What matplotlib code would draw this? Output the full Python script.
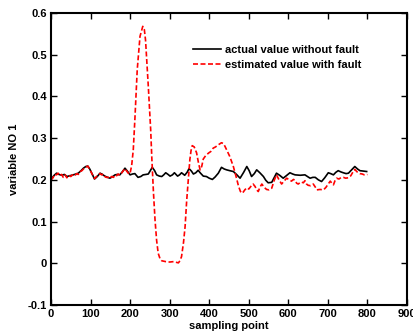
import numpy as np
import matplotlib
matplotlib.use('Agg')
import matplotlib.pyplot as plt

# curva real (sin falla)
x_act = [0, 7, 14, 20, 27, 34, 40, 48, 56, 63, 69, 76, 82, 88, 93, 98, 103, 110, 117, 124,
         130, 136, 143, 149, 156, 162, 168, 174, 181, 187, 193, 200, 206, 212, 220, 227, 233,
         240, 246, 251, 256, 262, 267, 274, 280, 285, 290, 296, 301, 307, 312, 316, 320, 325,
         330, 334, 338, 344, 349, 355, 360, 366, 372, 378, 385, 393, 400, 408, 415, 423, 431,
         438, 444, 452, 461, 470, 478, 487, 495, 501, 507, 514, 520, 528, 537, 543, 549, 558,
         564, 570, 578, 587, 595, 604, 611, 617, 630, 642, 650, 655, 662, 668, 676, 684, 692,
         701, 707, 714, 720, 726, 733, 739, 746, 752, 760, 768, 775, 781, 790, 798]
y_act = [0.200, 0.210, 0.216, 0.213, 0.211, 0.213, 0.208, 0.210, 0.212, 0.214, 0.216, 0.222,
         0.228, 0.232, 0.233, 0.226, 0.216, 0.202, 0.208, 0.216, 0.213, 0.209, 0.206, 0.204,
         0.208, 0.212, 0.213, 0.212, 0.220, 0.228, 0.221, 0.212, 0.214, 0.215, 0.206, 0.208,
         0.212, 0.213, 0.214, 0.222, 0.230, 0.222, 0.212, 0.209, 0.208, 0.212, 0.217, 0.213,
         0.209, 0.212, 0.217, 0.213, 0.209, 0.212, 0.217, 0.214, 0.211, 0.218, 0.227, 0.221,
         0.214, 0.217, 0.223, 0.216, 0.209, 0.208, 0.204, 0.201, 0.207, 0.216, 0.230, 0.226,
         0.224, 0.222, 0.220, 0.212, 0.204, 0.218, 0.232, 0.222, 0.208, 0.215, 0.224, 0.217,
         0.208, 0.199, 0.193, 0.194, 0.205, 0.216, 0.211, 0.204, 0.210, 0.217, 0.214, 0.212,
         0.211, 0.212, 0.207, 0.204, 0.206, 0.206, 0.200, 0.196, 0.205, 0.217, 0.215, 0.212,
         0.218, 0.222, 0.219, 0.217, 0.215, 0.216, 0.224, 0.232, 0.226, 0.222, 0.221, 0.220]

# curva estimada (con falla)
x_est = [0, 5, 10, 14, 18, 22, 27, 31, 36, 40, 45, 50, 56, 60, 65, 69, 74, 78, 82, 88, 93,
         98, 103, 110, 117, 124, 128, 132, 136, 140, 145, 149, 153, 158, 162, 166, 170, 174,
         178, 183, 187, 192, 197, 200, 204, 208, 212, 218, 225, 232, 236, 239, 246, 252, 255,
         259, 263, 267, 271, 276, 280, 290, 300, 310, 318, 322, 326, 330, 335, 339, 343, 347,
         351, 354, 357, 362, 368, 373, 377, 381, 385, 391, 398, 404, 410, 416, 423, 431, 436,
         440, 446, 452, 456, 461, 465, 469, 474, 479, 484, 490, 495, 500, 505, 511, 516, 520,
         524, 528, 533, 539, 545, 551, 558, 564, 570, 576, 583, 590, 596, 602, 608, 613, 617,
         621, 625, 632, 638, 642, 646, 650, 656, 663, 668, 672, 680, 689, 695, 701, 706, 710,
         714, 718, 722, 728, 734, 739, 745, 752, 758, 764, 768, 774, 781, 787, 792, 798, 800]
y_est = [0.200, 0.205, 0.214, 0.212, 0.216, 0.210, 0.213, 0.206, 0.212, 0.205, 0.211, 0.208,
         0.213, 0.210, 0.215, 0.213, 0.220, 0.222, 0.226, 0.230, 0.233, 0.225, 0.216, 0.203,
         0.210, 0.215, 0.212, 0.214, 0.208, 0.206, 0.206, 0.203, 0.208, 0.206, 0.212, 0.210,
         0.214, 0.211, 0.216, 0.222, 0.227, 0.220, 0.214, 0.216, 0.235, 0.272, 0.344, 0.464,
         0.544, 0.568, 0.560, 0.535, 0.424, 0.320, 0.250, 0.170, 0.104, 0.055, 0.024, 0.010,
         0.006, 0.004, 0.003, 0.004, 0.002, 0.001, 0.006, 0.016, 0.050, 0.088, 0.150, 0.200,
         0.248, 0.270, 0.282, 0.279, 0.265, 0.240, 0.224, 0.232, 0.250, 0.258, 0.264, 0.268,
         0.276, 0.279, 0.284, 0.289, 0.287, 0.280, 0.268, 0.256, 0.245, 0.232, 0.218, 0.204,
         0.185, 0.172, 0.168, 0.176, 0.181, 0.178, 0.184, 0.190, 0.184, 0.176, 0.172, 0.182,
         0.190, 0.182, 0.177, 0.176, 0.180, 0.198, 0.212, 0.201, 0.190, 0.198, 0.204, 0.200,
         0.197, 0.201, 0.199, 0.192, 0.190, 0.195, 0.193, 0.198, 0.190, 0.187, 0.186, 0.190,
         0.183, 0.176, 0.177, 0.176, 0.182, 0.190, 0.197, 0.192, 0.188, 0.198, 0.204, 0.202,
         0.206, 0.206, 0.204, 0.205, 0.210, 0.220, 0.225, 0.219, 0.215, 0.214, 0.212, 0.212,
         0.213]

plt.rcParams['font.family'] = ['Liberation Sans', 'DejaVu Sans']
plt.rcParams['font.weight'] = 'bold'
plt.rcParams['font.size'] = 8

fig = plt.figure(figsize=(4.14, 3.35), dpi=100)
ax = fig.add_axes([51/414, 1-305/335, 356/414, 292/335])

ax.plot(x_act, y_act, 'k-', lw=1.2, label='actual value without fault')
ax.plot(x_est, y_est, 'r--', lw=1.2, dashes=(3, 1.5), label='estimated value with fault')

ax.set_xlim(0, 900)
ax.set_ylim(-0.1, 0.6)
ax.set_xticks(np.arange(0, 901, 100))
ax.set_yticks(np.arange(-0.1, 0.61, 0.1))
ax.set_yticklabels(['-0.1', '0', '0.1', '0.2', '0.3', '0.4', '0.5', '0.6'])
ax.tick_params(direction='in', top=True, right=True, length=4, width=1, labelsize=8, pad=3)
for s in ax.spines.values():
    s.set_linewidth(1.5)

ax.set_xlabel('sampling point', fontweight='bold', labelpad=1)
ax.set_ylabel('variable NO 1', fontweight='bold', labelpad=6)

ax.legend(loc='upper left', bbox_to_anchor=(0.385, 0.905), frameon=False,
          handlelength=2.6, handletextpad=0.3, labelspacing=0.4, borderaxespad=0,
          prop={'weight': 'bold', 'size': 8})

plt.savefig('out.png', dpi=100)
